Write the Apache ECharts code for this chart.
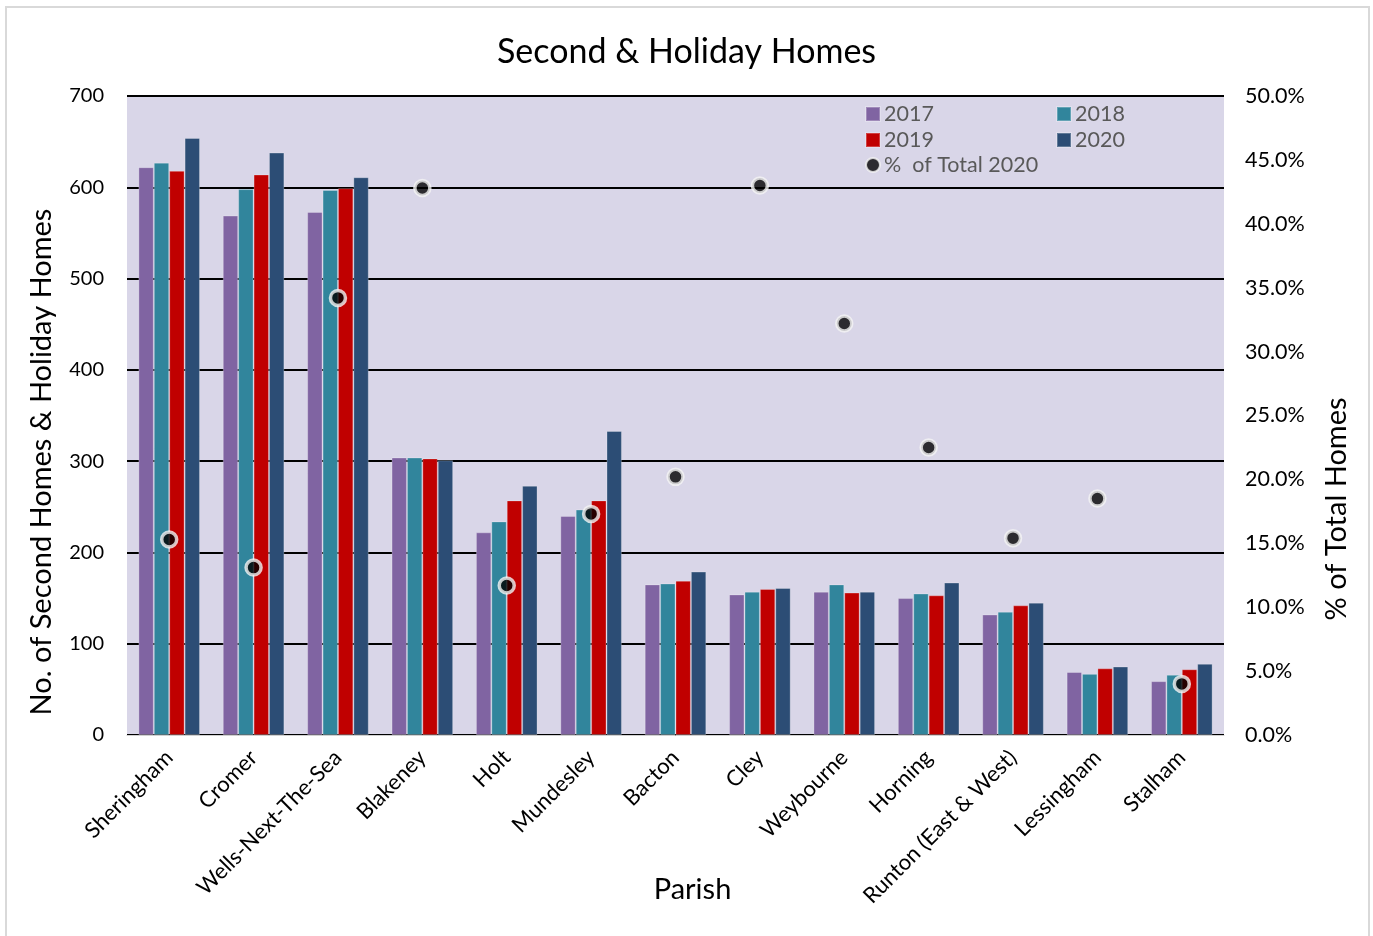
<!DOCTYPE html>
<html>
<head>
<meta charset="utf-8">
<script src="https://cdn.jsdelivr.net/npm/echarts@6/dist/echarts.min.js"></script>
<style>
html,body{margin:0;padding:0;background:#fff;}
#chart{width:1373px;height:936px;}
</style>
</head>
<body>
<div id="chart"></div>
<script>
const categories = ['Sheringham','Cromer','Wells-Next-The-Sea','Blakeney','Holt','Mundesley','Bacton','Cley','Weybourne','Horning','Runton (East & West)','Lessingham','Stalham'];
const homes2017 = [622,569,573,304,222,240,165,154,157,150,132,69,59];
const homes2018 = [627,598,597,304,234,247,166,157,165,155,135,67,66];
const homes2019 = [618,614,599,303,257,257,169,160,156,153,142,73,72];
const homes2020 = [654,638,611,301,273,333,179,161,157,167,145,75,78];
const pctTotal2020 = [15.3,13.1,34.2,42.8,11.7,17.3,20.2,43.0,32.2,22.5,15.4,18.5,4.0];

const FONT = 'Lato, "Noto Sans", sans-serif';
const chart = echarts.init(document.getElementById('chart'), null, {renderer:'canvas'});

function legendAt(name, left, top, icon) {
  return {
    data: [name], left: left, top: top, padding: 0, orient: 'horizontal',
    itemWidth: 14, itemHeight: 14, itemGap: 6, icon: icon,
    textStyle: {fontFamily: FONT, fontSize: 21.5, color: '#595959', padding: [0,0,0,-1]},
    selectedMode: false
  };
}

const barSeries = (name, data, color) => ({
  name: name, type: 'bar', data: data, yAxisIndex: 0,
  barGap: '0%', barCategoryGap: '27%',
  itemStyle: {color: color, borderColor: 'rgba(255,255,255,0.25)', borderWidth: 1},
  emphasis: {disabled: true}
});

chart.setOption({
  animation: false,
  backgroundColor: '#ffffff',
  textStyle: {fontFamily: FONT},
  title: {
    text: 'Second & Holiday Homes', left: 'center', top: 30,
    textStyle: {fontFamily: FONT, fontSize: 34, fontWeight: 'normal', color: '#000'}
  },
  legend: [
    legendAt('2017', 865, 103, 'rect'),
    legendAt('2018', 1056, 103, 'rect'),
    legendAt('2019', 865, 129, 'rect'),
    legendAt('2020', 1056, 129, 'rect'),
    legendAt('%  of Total 2020', 865, 154, 'circle')
  ],
  grid: {left: 127, right: 149, top: 96, bottom: 201, show: true, backgroundColor: '#D9D6E8', borderWidth: 0, containLabel: false, outerBoundsMode: 'none'},
  xAxis: {
    type: 'category', data: categories,
    name: 'Parish', nameLocation: 'middle', nameGap: 140, nameMoveOverlap: false,
    nameTextStyle: {fontFamily: FONT, fontSize: 29, color: '#000', padding: [0,0,0,34]},
    axisLine: {show: true, lineStyle: {color: '#D0D0D0', width: 1}},
    axisTick: {show: false},
    axisLabel: {rotate: 45, margin: 19, fontFamily: FONT, fontSize: 22, color: '#000', interval: 0}
  },
  yAxis: [
    {
      type: 'value', min: 0, max: 700, interval: 100,
      axisLine: {show: false}, axisTick: {show: false},
      axisLabel: {margin: 23, fontFamily: FONT, fontSize: 20, color: '#000'},
      splitLine: {show: true, lineStyle: {color: '#000', width: 2}}
    },
    {
      type: 'value', min: 0, max: 50, interval: 5, position: 'right',
      axisLine: {show: false}, axisTick: {show: false},
      axisLabel: {margin: 21, fontFamily: FONT, fontSize: 21.5, color: '#000', formatter: v => v.toFixed(1) + '%'},
      splitLine: {show: false}
    }
  ],
  graphic: [
    {type: 'rect', shape: {x: 6, y: 7, width: 1363, height: 940}, style: {fill: 'none', stroke: '#D9D9D9', lineWidth: 2}, silent: true},
    {type: 'text', x: 42, y: 462, rotation: Math.PI/2,
     style: {text: 'No. of Second Homes & Holiday Homes', fontFamily: FONT, fontSize: 29, fill: '#000', textAlign: 'center', textVerticalAlign: 'middle'}},
    {type: 'text', x: 1337, y: 509, rotation: Math.PI/2,
     style: {text: '% of Total Homes', fontFamily: FONT, fontSize: 29, fill: '#000', textAlign: 'center', textVerticalAlign: 'middle'}}
  ],
  series: [
    barSeries('2017', homes2017, '#8064A2'),
    barSeries('2018', homes2018, '#31859C'),
    barSeries('2019', homes2019, '#C00000'),
    barSeries('2020', homes2020, '#2C4D75'),
    {
      name: '%  of Total 2020', type: 'scatter', yAxisIndex: 1, data: pctTotal2020,
      symbol: 'circle', symbolSize: 15, z: 5,
      itemStyle: {color: '#000', borderColor: '#F4F4F4', borderWidth: 3.5},
      emphasis: {disabled: true}
    }
  ]
});
</script>
</body>
</html>
